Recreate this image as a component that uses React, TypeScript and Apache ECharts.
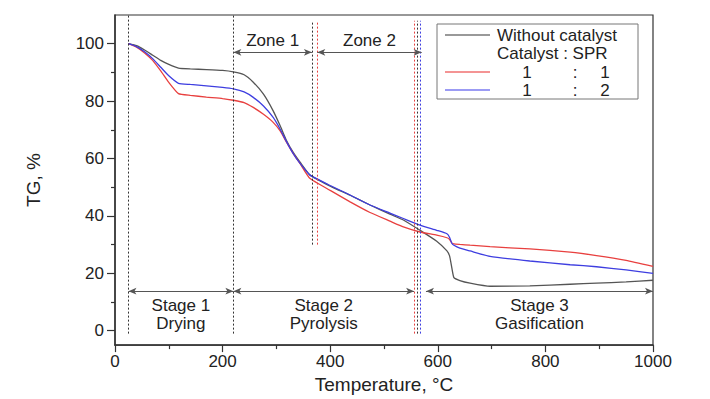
import React, { useEffect, useRef } from "react";
import * as echarts from "echarts";

const temperature = [25, 40, 55, 70, 85, 100, 118, 140, 170, 200, 220, 240, 257, 276, 294, 307, 319, 331, 344, 362, 400, 437, 474, 511, 536, 567, 598, 617, 622, 626, 630, 641, 660, 697, 771, 846, 895, 950, 1000];
const tgNoCatalyst = [100, 99.3, 97.8, 96, 94.2, 92.8, 91.5, 91.2, 91, 90.7, 90.2, 89.2, 86.6, 82.4, 76.6, 71.4, 66.2, 62.2, 58.7, 54.3, 50.4, 47.2, 43.8, 40.6, 38.6, 35, 31.2, 27.8, 26, 22, 18.5, 17.5, 16.6, 15.5, 15.6, 16.2, 16.6, 17, 17.6];
const tgSpr11 = [100, 98.8, 96.8, 94.2, 90.5, 86.5, 82.6, 82, 81.4, 80.9, 80.3, 79.5, 77.8, 75.4, 72.6, 69.6, 65.6, 61.8, 58.2, 53.1, 48.9, 44.9, 41.2, 38.2, 36.2, 34.4, 33.3, 32.4, 31.8, 30.6, 30.3, 30.1, 29.8, 29.3, 28.5, 27.4, 26.2, 24.5, 22.4];
const tgSpr12 = [100, 99, 97.2, 94.8, 91.8, 88.8, 86.2, 85.8, 85.3, 84.8, 84.3, 83.2, 81.3, 78.3, 74.3, 70.2, 65.8, 61.8, 58.3, 54.3, 50.6, 47.3, 43.8, 41, 39.1, 36.8, 35, 33.8, 32.5, 30.5, 29.8, 28.8, 27.8, 25.9, 24.3, 23, 22.3, 21.2, 20];

const seriesNames = ["Without catalyst", "1 : 1", "1 : 2"];
const seriesColors = ["#555555", "#e8403f", "#3e3ee0"];

const yMajorTicks = [0, 20, 40, 60, 80, 100];
const yMinorTicks = [10, 30, 50, 70, 90];

// stage arrows
const stageFrom = [25, 220, 578];
const stageTo = [220, 556, 1000];
const stageLabels = ["Stage 1\nDrying", "Stage 2\nPyrolysis", "Stage 3\nGasification"];
const stageArrowY = 13.8;

const zoneFrom = [220, 376];
const zoneTo = [366, 570];
const zoneLabels = ["Zone 1", "Zone 2"];
const zoneArrowY = 97;

// vertical dotted guide lines
const guideX = [25, 220, 366, 375, 556, 562, 568];
const guideBottom = [-1, -1, 30, 30, -1, -1, -1];
const guideTop = [110, 110, 108, 108, 108, 108, 108];
const guideColorIdx = [0, 0, 0, 1, 1, 0, 2];

const FONT = "'Liberation Sans', Arial, sans-serif";

export default function App() {
  const ref = useRef<HTMLDivElement>(null);
  useEffect(() => {
    if (!ref.current) return;
    const chart = echarts.init(ref.current, undefined, { renderer: "svg" });

    const guideLines = guideX.map((x, i) => [
      {
        coord: [x, guideBottom[i]],
        symbol: "none",
        lineStyle: { color: guideColorIdx[i] === 0 ? "#333" : seriesColors[guideColorIdx[i]], type: [2, 2], width: 1 },
      },
      { coord: [x, guideTop[i]], symbol: "none" },
    ]);
    const arrowStyle = { color: "#555", width: 1, type: "solid" };
    const stageLines = stageFrom.map((f, i) => [
      {
        coord: [f, stageArrowY],
        lineStyle: arrowStyle,
        label: {
          show: true,
          position: "insideMiddleBottom",
          formatter: stageLabels[i],
          fontSize: 17,
          lineHeight: 18,
          color: "#222",
          fontFamily: FONT,
          distance: 5,
        },
      },
      { coord: [stageTo[i], stageArrowY] },
    ]);
    const zoneLines = zoneFrom.map((f, i) => [
      {
        coord: [f, zoneArrowY],
        lineStyle: arrowStyle,
        label: {
          show: true,
          position: "insideMiddleTop",
          formatter: zoneLabels[i],
          fontSize: 17,
          color: "#222",
          fontFamily: FONT,
          distance: 3,
        },
      },
      { coord: [zoneTo[i], zoneArrowY] },
    ]);

    const series: any[] = [tgNoCatalyst, tgSpr11, tgSpr12].map((vals, si) => ({
      type: "line",
      name: seriesNames[si],
      data: temperature.map((t, i) => [t, vals[i]]),
      showSymbol: false,
      symbol: "none",
      smooth: 0.15,
      lineStyle: { color: seriesColors[si], width: 1.3 },
      z: 3,
    }));
    series.push({
      type: "line",
      name: "annotations",
      data: [],
      silent: true,
      markLine: {
        silent: true,
        symbol: ["arrow", "arrow"],
        symbolSize: [5, 8],
        label: { show: false },
        emphasis: { disabled: true },
        data: [...guideLines, ...stageLines, ...zoneLines],
      },
    });

    const rowY = [35, 53, 72, 90];
    const textStyle = { fill: "#222", font: `17px ${FONT}` };
    const axisColor = "#333";
    chart.setOption({
      animation: false,
      grid: { left: 115, right: 57, top: 15, bottom: 52, show: true, borderColor: axisColor, borderWidth: 1.2 },
      xAxis: {
        type: "value",
        min: 0,
        max: 1000,
        interval: 200,
        name: "Temperature, °C",
        nameLocation: "middle",
        nameGap: 27,
        nameTextStyle: { fontSize: 19, color: "#222", fontFamily: FONT },
        axisLine: { show: true, onZero: false, lineStyle: { color: axisColor, width: 1.5 } },
        axisTick: { show: true, length: 7, lineStyle: { color: axisColor, width: 1.2 } },
        minorTick: { show: true, splitNumber: 2, length: 4, lineStyle: { color: axisColor, width: 1.2 } },
        axisLabel: { fontSize: 17, color: "#222", fontFamily: FONT, margin: 8, formatter: (v: number) => String(v) },
        splitLine: { show: false },
      },
      yAxis: [
        {
          type: "value",
          position: "left",
          min: -5,
          max: 110,
          name: "TG, %",
          nameLocation: "middle",
          nameGap: 72,
          nameTextStyle: { fontSize: 19, color: "#222", fontFamily: FONT },
          axisLine: { show: true, onZero: false, lineStyle: { color: axisColor, width: 1.5 } },
          axisTick: { show: true, length: 8, customValues: yMajorTicks, lineStyle: { color: axisColor, width: 1.2 } },
          axisLabel: {
            fontSize: 17,
            color: "#222",
            fontFamily: FONT,
            margin: 11,
            customValues: yMajorTicks,
          },
          splitLine: { show: false },
        },
        {
          type: "value",
          position: "left",
          offset: 0,
          min: -5,
          max: 110,
          axisLine: { show: false, onZero: false },
          axisTick: { show: true, length: 4, customValues: yMinorTicks, lineStyle: { color: axisColor, width: 1.2 } },
          axisLabel: { show: false },
          splitLine: { show: false },
        },
      ],
      series,
      graphic: [
        {
          type: "rect",
          shape: { x: 437, y: 24, width: 201, height: 75 },
          style: { fill: "#fff", stroke: "#777", lineWidth: 1 },
          z: 10,
        },
        { type: "line", shape: { x1: 445, y1: rowY[0], x2: 490, y2: rowY[0] }, style: { stroke: "#777", lineWidth: 1.3 }, z: 11 },
        { type: "text", x: 497, y: rowY[0], style: { ...textStyle, text: "Without catalyst", verticalAlign: "middle" }, z: 11 },
        { type: "text", x: 497, y: rowY[1], style: { ...textStyle, text: "Catalyst : SPR", verticalAlign: "middle" }, z: 11 },
        { type: "line", shape: { x1: 445, y1: rowY[2], x2: 490, y2: rowY[2] }, style: { stroke: "#f07070", lineWidth: 1.3 }, z: 11 },
        { type: "text", x: 527, y: rowY[2], style: { ...textStyle, text: "1", align: "center", verticalAlign: "middle" }, z: 11 },
        { type: "text", x: 575, y: rowY[2], style: { ...textStyle, text: ":", align: "center", verticalAlign: "middle" }, z: 11 },
        { type: "text", x: 605, y: rowY[2], style: { ...textStyle, text: "1", align: "center", verticalAlign: "middle" }, z: 11 },
        { type: "line", shape: { x1: 445, y1: rowY[3], x2: 490, y2: rowY[3] }, style: { stroke: "#7a7af0", lineWidth: 1.3 }, z: 11 },
        { type: "text", x: 527, y: rowY[3], style: { ...textStyle, text: "1", align: "center", verticalAlign: "middle" }, z: 11 },
        { type: "text", x: 575, y: rowY[3], style: { ...textStyle, text: ":", align: "center", verticalAlign: "middle" }, z: 11 },
        { type: "text", x: 605, y: rowY[3], style: { ...textStyle, text: "2", align: "center", verticalAlign: "middle" }, z: 11 },
      ],
    });
    return () => chart.dispose();
  }, []);
  return <div ref={ref} style={{ position: "absolute", left: 0, top: 0, width: 710, height: 399, background: "#fff" }} />;
}
